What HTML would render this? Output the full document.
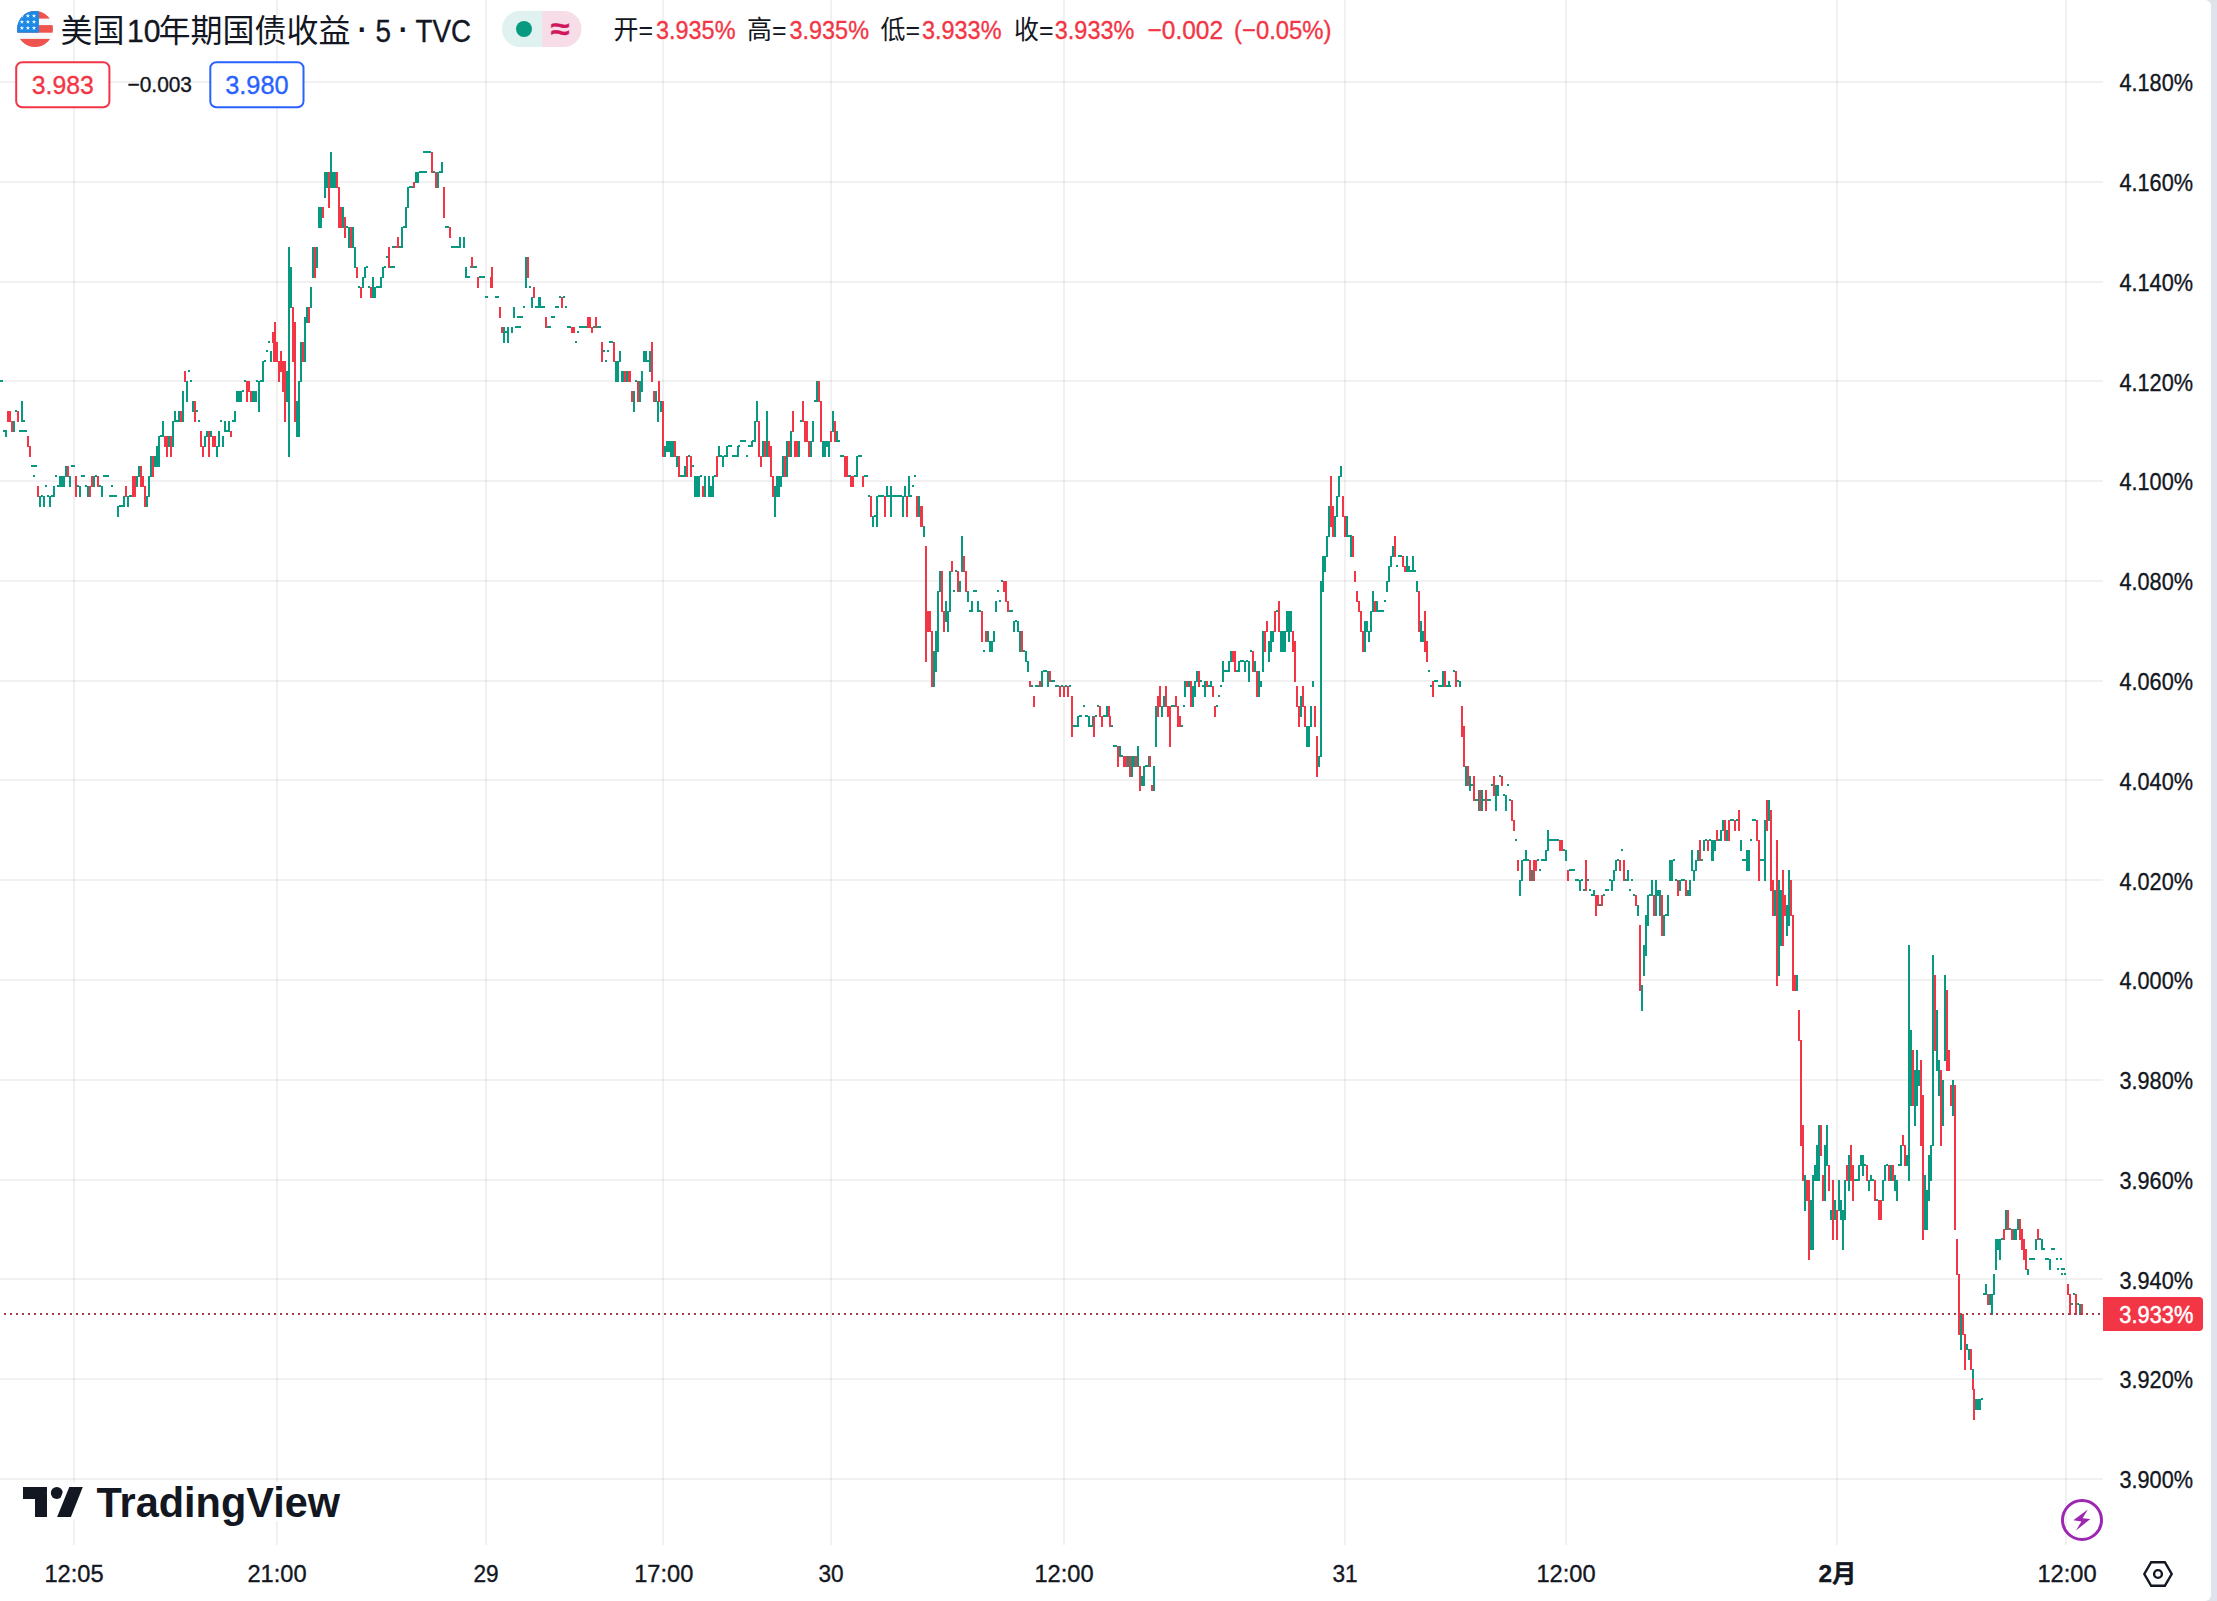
<!DOCTYPE html>
<html lang="zh-CN"><head><meta charset="utf-8"><title>美国10年期国债收益 · 5 · TVC</title>
<style>html,body{margin:0;padding:0;background:#fff}body{width:2217px;height:1601px;position:relative;overflow:hidden}</style>
</head><body>
<svg width="2217" height="1601" viewBox="0 0 2217 1601" style="position:absolute;left:0;top:0;display:block">
<rect x="0" y="0" width="2217" height="1601" fill="#e0e3eb"/>
<path d="M0 0H2205a6 6 0 0 1 6 6V1595a6 6 0 0 1 -6 6H0z" fill="#fff"/>
<path d="M0 81h2103v2h-2103zM0 181h2103v2h-2103zM0 281h2103v2h-2103zM0 380h2103v2h-2103zM0 480h2103v2h-2103zM0 580h2103v2h-2103zM0 680h2103v2h-2103zM0 779h2103v2h-2103zM0 879h2103v2h-2103zM0 979h2103v2h-2103zM0 1079h2103v2h-2103zM0 1179h2103v2h-2103zM0 1278h2103v2h-2103zM0 1378h2103v2h-2103zM0 1478h2103v2h-2103z" fill="rgba(19,23,34,0.06)"/>
<path d="M73 0h2v1545h-2zM276 0h2v1545h-2zM485 0h2v1545h-2zM662 0h2v1545h-2zM830 0h2v1545h-2zM1063 0h2v1545h-2zM1344 0h2v1545h-2zM1565 0h2v1545h-2zM1836 0h2v1545h-2zM2065 0h2v1545h-2z" fill="rgba(19,23,34,0.06)"/>
<path d="M0 380h3v2h-3zM3 430h4v2h-4zM5 431h2v6h-2zM13 421h2v11h-2zM15 410h2v2h-2zM21 401h2v21h-2zM23 420h2v2h-2zM19 430h8v2h-8zM31 465h6v2h-6zM33 475h2v2h-2zM39 496h2v11h-2zM41 495h2v2h-2zM43 496h2v11h-2zM45 485h2v2h-2zM47 495h2v2h-2zM49 496h2v11h-2zM51 495h2v2h-2zM53 486h2v11h-2zM55 475h2v2h-2zM57 485h2v2h-2zM59 476h6v11h-6zM65 466h2v11h-2zM69 476h2v11h-2zM71 465h4v2h-4zM77 485h2v2h-2zM79 486h2v11h-2zM81 475h4v2h-4zM85 485h2v2h-2zM87 486h2v11h-2zM93 476h2v11h-2zM95 475h2v2h-2zM99 485h2v2h-2zM101 486h2v11h-2zM103 475h6v2h-6zM111 485h2v2h-2zM109 495h8v2h-8zM117 506h2v11h-2zM119 505h5v2h-5zM123 496h2v11h-2zM127 496h2v11h-2zM129 495h3v2h-3zM136 476h2v11h-2zM138 466h2v11h-2zM146 496h2v11h-2zM148 476h2v21h-2zM150 456h2v21h-2zM154 456h2v11h-2zM156 446h2v21h-2zM158 436h2v31h-2zM160 435h2v2h-2zM162 421h2v16h-2zM168 436h2v11h-2zM172 421h2v26h-2zM174 411h2v11h-2zM176 420h2v2h-2zM178 411h2v11h-2zM182 391h2v31h-2zM186 381h2v21h-2zM188 370h2v2h-2zM190 380h2v2h-2zM192 401h2v11h-2zM196 410h2v2h-2zM198 420h2v2h-2zM204 436h2v11h-2zM206 431h2v6h-2zM210 431h2v6h-2zM216 446h2v11h-2zM218 431h2v16h-2zM220 420h2v2h-2zM222 436h2v11h-2zM224 421h2v11h-2zM226 430h2v2h-2zM228 421h2v11h-2zM232 420h2v2h-2zM234 411h2v11h-2zM236 391h6v11h-6zM242 390h2v2h-2zM244 380h2v2h-2zM252 391h4v11h-4zM256 380h2v2h-2zM258 381h2v31h-2zM260 380h2v2h-2zM262 361h2v21h-2zM264 360h2v2h-2zM266 350h2v2h-2zM270 351h2v11h-2zM255 391h2v11h-2zM258 381h2v31h-2zM260 380h2v2h-2zM262 361h2v21h-2zM264 360h2v2h-2zM266 350h2v2h-2zM268 341h2v2h-2zM270 351h2v11h-2zM286 371h2v31h-2zM288 247h2v210h-2zM290 267h2v41h-2zM296 401h2v36h-2zM298 381h2v56h-2zM300 342h2v40h-2zM304 317h2v45h-2zM306 307h2v16h-2zM310 287h2v21h-2zM312 247h2v31h-2zM316 247h2v21h-2zM318 207h4v21h-4zM324 172h2v26h-2zM326 172h2v16h-2zM330 152h2v36h-2zM332 172h4v16h-4zM342 207h2v21h-2zM346 226h2v2h-2zM348 227h2v21h-2zM352 227h2v21h-2zM354 247h2v21h-2zM358 286h2v2h-2zM362 277h2v11h-2zM364 267h2v11h-2zM366 266h2v2h-2zM368 286h2v2h-2zM372 277h2v21h-2zM374 287h2v11h-2zM376 286h4v2h-4zM380 277h2v11h-2zM382 267h2v11h-2zM384 266h2v2h-2zM386 256h2v2h-2zM390 266h5v2h-5zM392 246h3v2h-3zM399 246h2v2h-2zM401 227h2v21h-2zM403 226h2v2h-2zM405 207h2v21h-2zM407 187h2v21h-2zM409 186h4v2h-4zM415 172h4v11h-4zM419 171h8v2h-8zM423 151h8v2h-8zM433 171h2v2h-2zM437 172h2v16h-2zM439 171h2v2h-2zM441 162h2v11h-2zM445 226h4v2h-4zM451 246h8v2h-8zM459 237h2v11h-2zM463 237h2v11h-2zM465 267h2v11h-2zM467 276h3v2h-3zM470 266h2v2h-2zM473 266h4v2h-4zM479 276h6v2h-6zM485 296h3v2h-3zM495 296h4v2h-4zM503 327h2v16h-2zM505 331h2v2h-2zM507 327h2v16h-2zM511 327h2v6h-2zM515 326h6v2h-6zM513 307h2v11h-2zM517 316h6v2h-6zM523 306h2v2h-2zM531 297h2v11h-2zM535 306h3v2h-3zM538 297h3v11h-3zM541 306h4v2h-4zM547 326h4v2h-4zM551 316h4v2h-4zM555 306h4v2h-4zM559 296h2v2h-2zM563 296h2v2h-2zM565 306h2v2h-2zM567 326h4v2h-4zM575 341h2v2h-2zM577 331h2v2h-2zM579 326h9v2h-9zM593 326h2v2h-2zM597 326h4v2h-4zM603 350h2v2h-2zM605 360h2v2h-2zM607 350h2v2h-2zM609 341h4v2h-4zM615 361h4v21h-4zM619 351h2v11h-2zM621 371h3v11h-3zM626 371h2v11h-2zM633 391h2v21h-2zM635 380h2v2h-2zM639 381h2v21h-2zM641 371h2v21h-2zM643 351h4v11h-4zM647 360h2v2h-2zM649 351h2v21h-2zM655 391h2v11h-2zM657 401h2v21h-2zM660 401h2v11h-2zM664 446h2v11h-2zM666 441h4v11h-4zM670 441h4v16h-4zM676 456h2v11h-2zM680 475h4v2h-4zM684 466h2v11h-2zM688 455h2v2h-2zM692 465h2v2h-2zM694 476h6v21h-6zM700 475h2v2h-2zM704 476h2v21h-2zM708 476h2v21h-2zM710 486h2v11h-2zM712 476h2v21h-2zM714 475h2v2h-2zM718 446h2v11h-2zM720 455h2v2h-2zM722 456h2v11h-2zM724 455h2v2h-2zM726 446h2v11h-2zM728 445h4v2h-4zM732 455h5v2h-5zM737 446h2v11h-2zM738 445h2v2h-2zM740 440h6v2h-6zM746 455h2v2h-2zM748 445h3v2h-3zM751 441h2v6h-2zM752 440h2v2h-2zM754 421h2v21h-2zM756 401h2v21h-2zM762 441h2v16h-2zM766 411h2v46h-2zM774 486h2v31h-2zM776 476h4v21h-4zM780 476h2v11h-2zM782 456h2v21h-2zM786 441h2v36h-2zM790 431h2v26h-2zM798 441h2v16h-2zM800 420h2v2h-2zM810 441h2v16h-2zM812 421h2v21h-2zM814 400h2v2h-2zM816 381h2v21h-2zM822 441h4v16h-4zM826 441h2v6h-2zM828 441h2v16h-2zM832 411h2v21h-2zM836 431h2v11h-2zM838 440h2v2h-2zM840 455h4v2h-4zM848 475h3v2h-3zM854 475h2v2h-2zM856 456h2v21h-2zM858 455h4v2h-4zM864 475h4v2h-4zM868 495h2v2h-2zM872 516h2v11h-2zM874 515h2v2h-2zM876 496h2v31h-2zM878 495h6v2h-6zM886 486h2v11h-2zM888 495h2v2h-2zM890 486h2v31h-2zM892 495h10v2h-10zM902 496h2v21h-2zM904 486h2v11h-2zM908 476h2v21h-2zM910 495h2v2h-2zM912 485h2v2h-2zM914 475h2v2h-2zM918 496h2v21h-2zM923 526h2v11h-2zM933 651h2v36h-2zM935 631h2v41h-2zM937 591h2v61h-2zM939 571h2v21h-2zM945 601h2v21h-2zM947 611h2v21h-2zM949 571h2v41h-2zM953 590h2v2h-2zM955 570h2v2h-2zM959 581h2v11h-2zM961 536h2v36h-2zM967 591h2v11h-2zM969 610h2v2h-2zM971 601h2v11h-2zM973 590h4v2h-4zM977 601h2v11h-2zM979 610h2v2h-2zM983 650h2v2h-2zM987 631h2v11h-2zM989 641h4v11h-4zM993 631h2v11h-2zM995 601h2v11h-2zM997 590h2v2h-2zM999 600h2v2h-2zM1001 580h2v2h-2zM1009 610h4v2h-4zM1013 621h2v11h-2zM1015 620h2v2h-2zM1017 621h2v11h-2zM1019 631h2v21h-2zM1023 650h2v2h-2zM1025 651h2v11h-2zM1027 661h2v11h-2zM1031 685h2v2h-2zM1035 685h4v2h-4zM1041 671h2v16h-2zM1043 670h4v2h-4zM1047 671h2v16h-2zM1051 680h4v2h-4zM1055 685h4v2h-4zM1061 685h2v2h-2zM1065 685h2v2h-2zM1069 685h2v2h-2zM1073 725h4v2h-4zM1077 716h2v11h-2zM1079 715h3v2h-3zM1083 705h2v2h-2zM1085 715h3v2h-3zM1088 716h2v11h-2zM1089 725h3v2h-3zM1092 716h2v11h-2zM1095 715h2v2h-2zM1097 705h2v2h-2zM1103 715h3v2h-3zM1106 706h2v11h-2zM1111 725h2v2h-2zM1113 745h4v2h-4zM1119 746h2v11h-2zM1121 755h2v2h-2zM1127 756h2v11h-2zM1131 756h2v21h-2zM1133 756h2v11h-2zM1137 746h2v21h-2zM1141 776h2v10h-2zM1143 766h2v20h-2zM1145 765h3v2h-3zM1148 756h2v11h-2zM1153 766h2v25h-2zM1155 706h2v41h-2zM1161 706h2v11h-2zM1163 696h2v11h-2zM1171 705h4v2h-4zM1181 725h2v2h-2zM1183 705h2v2h-2zM1184 681h2v16h-2zM1188 681h2v6h-2zM1192 686h2v21h-2zM1194 681h2v16h-2zM1196 671h2v11h-2zM1200 680h2v2h-2zM1202 685h2v2h-2zM1204 681h2v16h-2zM1208 685h2v2h-2zM1210 681h2v6h-2zM1216 705h2v2h-2zM1218 695h2v2h-2zM1220 685h2v2h-2zM1222 661h2v21h-2zM1224 670h4v2h-4zM1228 661h2v11h-2zM1230 651h2v11h-2zM1236 670h2v2h-2zM1238 661h2v11h-2zM1240 660h4v2h-4zM1244 661h2v11h-2zM1246 660h2v2h-2zM1248 661h2v21h-2zM1250 650h2v2h-2zM1254 661h2v11h-2zM1258 671h2v26h-2zM1260 681h2v6h-2zM1262 631h2v41h-2zM1268 641h2v21h-2zM1270 631h2v21h-2zM1272 631h2v11h-2zM1300 696h2v21h-2zM1306 726h4v21h-4zM1310 706h2v21h-2zM1312 681h2v6h-2zM1318 756h2v11h-2zM1276 610h2v2h-2zM1280 631h6v21h-6zM1286 611h6v21h-6zM1288 631h2v11h-2zM1320 581h2v176h-2zM1322 556h2v36h-2zM1324 556h2v16h-2zM1326 536h2v21h-2zM1328 506h2v31h-2zM1334 516h2v21h-2zM1336 496h2v21h-2zM1338 476h2v21h-2zM1340 466h2v11h-2zM1346 516h2v21h-2zM1348 535h4v2h-4zM1350 536h2v21h-2zM1364 621h2v31h-2zM1366 621h2v11h-2zM1368 631h2v11h-2zM1370 611h2v21h-2zM1372 591h2v21h-2zM1376 601h2v11h-2zM1378 610h6v2h-6zM1384 600h2v2h-2zM1386 581h2v11h-2zM1388 566h2v16h-2zM1390 556h2v11h-2zM1392 546h2v11h-2zM1396 565h2v2h-2zM1398 555h4v2h-4zM1406 556h2v16h-2zM1408 566h2v6h-2zM1410 570h2v2h-2zM1412 556h2v16h-2zM1414 570h2v2h-2zM1416 581h2v11h-2zM1420 621h2v21h-2zM1422 631h2v11h-2zM1428 670h2v2h-2zM1430 685h2v2h-2zM1434 680h4v2h-4zM1438 685h4v2h-4zM1442 671h2v16h-2zM1446 685h5v2h-5zM1448 681h2v6h-2zM1453 670h2v2h-2zM1457 680h2v2h-2zM1459 681h2v6h-2zM1465 766h2v20h-2zM1469 776h2v15h-2zM1471 784h2v2h-2zM1475 799h3v2h-3zM1478 790h2v21h-2zM1481 790h2v21h-2zM1482 799h3v2h-3zM1487 799h4v2h-4zM1491 784h2v2h-2zM1495 785h2v26h-2zM1497 785h2v11h-2zM1499 775h2v2h-2zM1503 794h2v2h-2zM1505 795h2v16h-2zM1507 784h2v2h-2zM1509 799h2v2h-2zM1515 839h2v2h-2zM1519 880h2v16h-2zM1521 860h2v21h-2zM1523 859h2v2h-2zM1525 850h2v11h-2zM1527 859h2v2h-2zM1531 870h2v11h-2zM1537 859h2v2h-2zM1539 869h2v2h-2zM1541 859h4v2h-4zM1545 850h2v11h-2zM1547 830h2v21h-2zM1549 839h10v2h-10zM1563 849h2v2h-2zM1565 850h2v11h-2zM1569 869h6v2h-6zM1575 879h4v2h-4zM1579 880h2v11h-2zM1581 879h2v2h-2zM1583 889h2v2h-2zM1587 879h2v2h-2zM1589 889h2v2h-2zM1591 894h2v2h-2zM1593 890h2v6h-2zM1599 904h2v2h-2zM1603 894h2v2h-2zM1605 889h4v2h-4zM1609 879h2v2h-2zM1611 880h2v11h-2zM1613 870h2v11h-2zM1615 860h2v11h-2zM1617 859h2v2h-2zM1621 849h2v2h-2zM1625 879h2v2h-2zM1627 870h2v11h-2zM1629 889h2v2h-2zM1631 879h2v2h-2zM1633 894h2v2h-2zM1637 905h2v11h-2zM1643 945h2v31h-2zM1645 915h2v41h-2zM1647 895h2v31h-2zM1649 894h2v2h-2zM1651 880h2v16h-2zM1655 880h2v36h-2zM1657 890h2v6h-2zM1659 890h2v26h-2zM1663 915h2v21h-2zM1665 914h2v2h-2zM1667 895h2v21h-2zM1669 860h4v21h-4zM1673 859h2v2h-2zM1675 879h2v2h-2zM1679 880h2v11h-2zM1681 879h4v2h-4zM1687 890h2v6h-2zM1689 880h2v16h-2zM1691 850h2v21h-2zM1693 870h2v11h-2zM1695 860h2v11h-2zM1697 850h2v11h-2zM1701 859h2v2h-2zM1703 840h2v11h-2zM1705 839h2v2h-2zM1709 839h2v2h-2zM1711 840h3v21h-3zM1714 840h2v11h-2zM1718 839h2v2h-2zM1720 830h2v11h-2zM1722 820h2v11h-2zM1726 830h2v11h-2zM1730 819h4v2h-4zM1736 819h2v2h-2zM1740 840h2v11h-2zM1742 859h4v2h-4zM1746 850h4v21h-4zM1750 839h2v2h-2zM1752 819h4v2h-4zM1760 859h4v2h-4zM1764 820h2v61h-2zM1641 985h2v26h-2zM1768 800h2v21h-2zM1774 890h2v26h-2zM1778 880h2v96h-2zM1780 890h2v56h-2zM1786 905h2v31h-2zM1788 870h2v56h-2zM1796 975h2v16h-2zM1804 1175h2v36h-2zM1812 1175h2v26h-2zM1814 1165h2v16h-2zM1816 1145h2v36h-2zM1818 1125h2v56h-2zM1824 1145h2v56h-2zM1826 1125h2v41h-2zM1830 1210h2v10h-2zM1834 1200h2v20h-2zM1838 1180h2v31h-2zM1840 1200h2v20h-2zM1844 1180h2v40h-2zM1848 1155h2v36h-2zM1854 1179h4v2h-4zM1858 1165h2v16h-2zM1860 1155h2v11h-2zM1862 1155h2v21h-2zM1864 1164h2v2h-2zM1868 1180h2v11h-2zM1870 1175h2v6h-2zM1872 1179h2v2h-2zM1876 1199h2v2h-2zM1882 1180h2v21h-2zM1884 1165h2v16h-2zM1886 1164h2v2h-2zM1890 1165h2v16h-2zM1894 1175h2v16h-2zM1896 1180h2v21h-2zM1898 1164h2v2h-2zM1900 1145h2v21h-2zM1906 1155h2v11h-2zM1914 1070h2v56h-2zM1916 1050h2v56h-2zM1918 1070h2v16h-2zM1928 1155h2v46h-2zM1930 1145h2v36h-2zM1938 1060h2v36h-2zM1942 1080h2v46h-2zM1952 1080h2v36h-2zM1908 945h2v236h-2zM1910 1030h2v76h-2zM1932 955h2v191h-2zM1936 1010h2v61h-2zM1944 975h2v86h-2zM1810 1200h2v50h-2zM1812 1200h2v50h-2zM1842 1210h2v40h-2zM1924 1175h2v55h-2zM1926 1190h2v40h-2zM1960 1314h2v36h-2zM1983 1293h3v2h-3zM1985 1284h2v11h-2zM1989 1294h2v11h-2zM1991 1294h2v21h-2zM1993 1274h2v21h-2zM1995 1239h2v31h-2zM1997 1239h2v11h-2zM1999 1239h2v21h-2zM2001 1238h2v2h-2zM2005 1210h2v20h-2zM2009 1228h2v2h-2zM2013 1229h2v11h-2zM2015 1229h2v11h-2zM2017 1219h2v11h-2zM2027 1269h2v6h-2zM2029 1258h6v2h-6zM2035 1239h2v11h-2zM2039 1238h2v2h-2zM2041 1239h2v11h-2zM2043 1248h2v2h-2zM2045 1258h4v2h-4zM2049 1259h2v11h-2zM2051 1248h4v2h-4zM1966 1344h2v6h-2zM1968 1349h2v11h-2zM1972 1369h2v11h-2zM1975 1399h6v11h-6zM1981 1398h2v2h-2zM2056 1258h2v2h-2zM2060 1258h2v2h-2zM2057 1268h2v2h-2zM2061 1268h4v2h-4zM2061 1273h2v2h-2zM2064 1273h2v2h-2zM2071 1303h2v2h-2zM2073 1293h2v2h-2zM2077 1303h2v2h-2zM2079 1304h2v11h-2zM525 257h2v31h-2zM529 286h2v2h-2z" fill="#089981" shape-rendering="crispEdges"/>
<path d="M7 411h4v11h-4zM11 421h2v11h-2zM17 411h2v11h-2zM27 436h2v11h-2zM29 446h2v11h-2zM37 486h2v11h-2zM67 466h2v11h-2zM75 476h2v21h-2zM89 486h2v11h-2zM91 476h2v11h-2zM97 476h2v11h-2zM125 486h2v11h-2zM132 476h4v21h-4zM140 466h2v21h-2zM142 476h2v11h-2zM144 486h2v21h-2zM152 456h2v21h-2zM164 436h2v11h-2zM166 436h2v21h-2zM170 436h2v21h-2zM180 411h2v11h-2zM184 371h2v11h-2zM194 401h2v21h-2zM200 431h2v16h-2zM202 446h2v11h-2zM208 431h2v26h-2zM212 436h4v11h-4zM230 431h2v6h-2zM246 381h2v21h-2zM248 381h2v11h-2zM250 391h2v11h-2zM273 342h4v20h-4zM272 332h2v11h-2zM274 322h2v40h-2zM276 342h2v20h-2zM278 361h2v21h-2zM280 351h2v21h-2zM282 361h2v31h-2zM284 361h2v61h-2zM292 307h2v55h-2zM294 322h2v100h-2zM302 342h2v20h-2zM308 307h2v16h-2zM314 247h2v31h-2zM322 207h2v11h-2zM328 172h2v36h-2zM336 172h2v16h-2zM338 187h2v21h-2zM338 207h4v21h-4zM344 217h2v21h-2zM350 227h2v21h-2zM356 267h2v11h-2zM360 287h2v11h-2zM370 287h2v11h-2zM388 247h2v21h-2zM395 246h2v2h-2zM397 237h2v11h-2zM413 182h2v6h-2zM431 152h2v21h-2zM435 172h2v16h-2zM443 187h2v31h-2zM449 227h2v11h-2zM471 257h2v11h-2zM477 277h2v11h-2zM490 277h2v11h-2zM491 267h2v21h-2zM499 307h2v11h-2zM501 327h2v6h-2zM533 287h2v11h-2zM545 317h2v11h-2zM561 297h2v11h-2zM571 327h4v6h-4zM587 317h4v11h-4zM591 327h2v6h-2zM595 317h2v11h-2zM601 342h2v20h-2zM613 342h2v20h-2zM624 371h2v11h-2zM628 371h3v11h-3zM631 391h2v11h-2zM637 381h2v21h-2zM651 342h2v40h-2zM653 391h2v11h-2zM658 381h2v21h-2zM662 401h2v56h-2zM674 441h2v16h-2zM678 456h2v21h-2zM686 456h2v21h-2zM690 456h2v21h-2zM702 486h2v11h-2zM716 456h2v21h-2zM758 421h2v36h-2zM760 456h2v11h-2zM764 441h2v16h-2zM768 441h2v16h-2zM770 446h2v31h-2zM772 476h2v21h-2zM784 456h2v21h-2zM788 441h2v16h-2zM792 411h2v21h-2zM794 441h4v16h-4zM802 401h2v21h-2zM804 421h4v21h-4zM808 441h2v16h-2zM818 381h2v21h-2zM820 401h2v41h-2zM830 431h2v11h-2zM834 421h2v21h-2zM844 456h4v21h-4zM850 476h4v11h-4zM862 476h2v11h-2zM870 496h2v21h-2zM884 496h2v21h-2zM906 496h2v21h-2zM916 496h2v21h-2zM920 506h3v21h-3zM925 546h2v116h-2zM927 611h4v21h-4zM931 631h2v56h-2zM941 571h2v41h-2zM943 611h2v21h-2zM951 561h2v11h-2zM957 571h2v21h-2zM963 556h2v16h-2zM965 571h2v21h-2zM981 611h2v31h-2zM985 631h2v11h-2zM1003 581h4v11h-4zM1005 591h2v11h-2zM1007 601h2v11h-2zM1021 631h2v21h-2zM1029 681h2v6h-2zM1033 696h2v11h-2zM1039 681h2v6h-2zM1049 671h2v11h-2zM1059 686h2v11h-2zM1063 686h2v11h-2zM1067 686h2v11h-2zM1071 696h2v41h-2zM1093 716h2v21h-2zM1099 706h2v11h-2zM1101 716h2v11h-2zM1108 706h2v11h-2zM1109 716h2v11h-2zM1117 746h2v21h-2zM1123 756h4v11h-4zM1129 756h2v21h-2zM1135 756h2v11h-2zM1139 766h2v25h-2zM1149 756h2v11h-2zM1151 785h2v6h-2zM1157 696h2v21h-2zM1159 686h2v21h-2zM1165 686h2v21h-2zM1167 706h2v11h-2zM1169 706h2v41h-2zM1175 696h2v11h-2zM1177 706h2v21h-2zM1179 716h2v11h-2zM1186 681h2v6h-2zM1190 681h2v26h-2zM1198 671h2v16h-2zM1206 681h2v6h-2zM1212 686h2v11h-2zM1214 706h2v11h-2zM1232 651h2v11h-2zM1234 651h2v21h-2zM1252 651h2v21h-2zM1256 671h2v26h-2zM1264 631h2v21h-2zM1266 621h2v11h-2zM1296 686h2v21h-2zM1298 706h2v21h-2zM1302 686h2v21h-2zM1304 706h2v21h-2zM1314 706h2v21h-2zM1316 736h2v41h-2zM1274 611h2v21h-2zM1278 601h2v31h-2zM1292 631h2v21h-2zM1294 641h2v41h-2zM1330 476h2v51h-2zM1332 506h2v31h-2zM1342 496h2v21h-2zM1344 516h2v21h-2zM1352 536h2v21h-2zM1354 571h2v11h-2zM1356 591h2v11h-2zM1358 601h2v11h-2zM1360 611h2v21h-2zM1362 631h2v21h-2zM1374 601h2v11h-2zM1394 536h2v21h-2zM1402 556h2v11h-2zM1404 566h2v6h-2zM1418 591h2v41h-2zM1424 611h2v31h-2zM1424 641h2v11h-2zM1426 641h2v21h-2zM1432 681h2v16h-2zM1444 671h2v16h-2zM1455 671h2v16h-2zM1461 706h2v31h-2zM1463 726h2v41h-2zM1467 766h2v20h-2zM1473 776h2v25h-2zM1479 790h2v21h-2zM1485 790h2v21h-2zM1493 776h2v20h-2zM1501 776h2v10h-2zM1511 800h2v21h-2zM1513 820h2v11h-2zM1517 860h2v11h-2zM1529 860h2v21h-2zM1533 860h2v21h-2zM1535 860h2v11h-2zM1559 840h4v11h-4zM1567 870h2v11h-2zM1585 860h2v31h-2zM1595 895h2v21h-2zM1597 895h2v11h-2zM1601 895h2v11h-2zM1619 860h2v11h-2zM1623 860h2v21h-2zM1635 895h2v11h-2zM1653 895h2v21h-2zM1661 895h2v41h-2zM1677 880h2v16h-2zM1685 880h2v16h-2zM1699 840h2v21h-2zM1707 840h2v11h-2zM1716 830h2v11h-2zM1724 820h2v21h-2zM1728 820h2v21h-2zM1734 820h2v11h-2zM1738 810h2v21h-2zM1756 820h2v21h-2zM1758 840h2v41h-2zM1639 925h2v66h-2zM1766 800h2v31h-2zM1770 810h2v81h-2zM1772 880h2v36h-2zM1776 840h2v146h-2zM1782 870h2v76h-2zM1784 895h2v21h-2zM1790 880h2v36h-2zM1792 915h2v76h-2zM1794 975h2v16h-2zM1798 1010h2v31h-2zM1800 1040h2v106h-2zM1802 1125h2v56h-2zM1806 1180h2v21h-2zM1820 1125h2v31h-2zM1822 1175h2v26h-2zM1828 1165h2v26h-2zM1846 1165h2v16h-2zM1850 1145h2v36h-2zM1852 1165h2v36h-2zM1866 1165h2v16h-2zM1874 1180h2v21h-2zM1878 1200h4v20h-4zM1888 1165h2v16h-2zM1892 1165h2v16h-2zM1902 1135h2v11h-2zM1904 1145h2v21h-2zM1912 1050h2v56h-2zM1920 1060h2v86h-2zM1940 1070h2v76h-2zM1948 1050h2v21h-2zM1950 1085h2v21h-2zM1934 975h2v76h-2zM1946 990h2v81h-2zM1808 1180h2v80h-2zM1832 1180h2v60h-2zM1836 1210h2v30h-2zM1922 1095h2v145h-2zM1954 1085h2v145h-2zM1956 1239h2v36h-2zM1958 1274h2v61h-2zM1962 1314h2v21h-2zM1987 1294h2v11h-2zM2003 1229h2v11h-2zM2007 1210h2v20h-2zM2011 1229h2v11h-2zM2019 1219h2v21h-2zM2021 1229h2v21h-2zM2023 1239h2v21h-2zM2025 1249h2v21h-2zM2037 1229h2v11h-2zM1964 1334h2v36h-2zM1970 1349h2v21h-2zM1972 1379h2v11h-2zM1973 1389h2v31h-2zM2067 1284h2v11h-2zM2069 1294h2v21h-2zM2075 1294h2v21h-2zM2081 1304h2v11h-2zM527 257h2v21h-2z" fill="#f23645" shape-rendering="crispEdges"/>
<path d="M4 1313h2v2h-2zM10 1313h2v2h-2zM16 1313h2v2h-2zM22 1313h2v2h-2zM28 1313h2v2h-2zM34 1313h2v2h-2zM40 1313h2v2h-2zM46 1313h2v2h-2zM52 1313h2v2h-2zM58 1313h2v2h-2zM64 1313h2v2h-2zM70 1313h2v2h-2zM76 1313h2v2h-2zM82 1313h2v2h-2zM88 1313h2v2h-2zM94 1313h2v2h-2zM100 1313h2v2h-2zM106 1313h2v2h-2zM112 1313h2v2h-2zM118 1313h2v2h-2zM124 1313h2v2h-2zM130 1313h2v2h-2zM136 1313h2v2h-2zM142 1313h2v2h-2zM148 1313h2v2h-2zM154 1313h2v2h-2zM160 1313h2v2h-2zM166 1313h2v2h-2zM172 1313h2v2h-2zM178 1313h2v2h-2zM184 1313h2v2h-2zM190 1313h2v2h-2zM196 1313h2v2h-2zM202 1313h2v2h-2zM208 1313h2v2h-2zM214 1313h2v2h-2zM220 1313h2v2h-2zM226 1313h2v2h-2zM232 1313h2v2h-2zM238 1313h2v2h-2zM244 1313h2v2h-2zM250 1313h2v2h-2zM256 1313h2v2h-2zM262 1313h2v2h-2zM268 1313h2v2h-2zM274 1313h2v2h-2zM280 1313h2v2h-2zM286 1313h2v2h-2zM292 1313h2v2h-2zM298 1313h2v2h-2zM304 1313h2v2h-2zM310 1313h2v2h-2zM316 1313h2v2h-2zM322 1313h2v2h-2zM328 1313h2v2h-2zM334 1313h2v2h-2zM340 1313h2v2h-2zM346 1313h2v2h-2zM352 1313h2v2h-2zM358 1313h2v2h-2zM364 1313h2v2h-2zM370 1313h2v2h-2zM376 1313h2v2h-2zM382 1313h2v2h-2zM388 1313h2v2h-2zM394 1313h2v2h-2zM400 1313h2v2h-2zM406 1313h2v2h-2zM412 1313h2v2h-2zM418 1313h2v2h-2zM424 1313h2v2h-2zM430 1313h2v2h-2zM436 1313h2v2h-2zM442 1313h2v2h-2zM448 1313h2v2h-2zM454 1313h2v2h-2zM460 1313h2v2h-2zM466 1313h2v2h-2zM472 1313h2v2h-2zM478 1313h2v2h-2zM484 1313h2v2h-2zM490 1313h2v2h-2zM496 1313h2v2h-2zM502 1313h2v2h-2zM508 1313h2v2h-2zM514 1313h2v2h-2zM520 1313h2v2h-2zM526 1313h2v2h-2zM532 1313h2v2h-2zM538 1313h2v2h-2zM544 1313h2v2h-2zM550 1313h2v2h-2zM556 1313h2v2h-2zM562 1313h2v2h-2zM568 1313h2v2h-2zM574 1313h2v2h-2zM580 1313h2v2h-2zM586 1313h2v2h-2zM592 1313h2v2h-2zM598 1313h2v2h-2zM604 1313h2v2h-2zM610 1313h2v2h-2zM616 1313h2v2h-2zM622 1313h2v2h-2zM628 1313h2v2h-2zM634 1313h2v2h-2zM640 1313h2v2h-2zM646 1313h2v2h-2zM652 1313h2v2h-2zM658 1313h2v2h-2zM664 1313h2v2h-2zM670 1313h2v2h-2zM676 1313h2v2h-2zM682 1313h2v2h-2zM688 1313h2v2h-2zM694 1313h2v2h-2zM700 1313h2v2h-2zM706 1313h2v2h-2zM712 1313h2v2h-2zM718 1313h2v2h-2zM724 1313h2v2h-2zM730 1313h2v2h-2zM736 1313h2v2h-2zM742 1313h2v2h-2zM748 1313h2v2h-2zM754 1313h2v2h-2zM760 1313h2v2h-2zM766 1313h2v2h-2zM772 1313h2v2h-2zM778 1313h2v2h-2zM784 1313h2v2h-2zM790 1313h2v2h-2zM796 1313h2v2h-2zM802 1313h2v2h-2zM808 1313h2v2h-2zM814 1313h2v2h-2zM820 1313h2v2h-2zM826 1313h2v2h-2zM832 1313h2v2h-2zM838 1313h2v2h-2zM844 1313h2v2h-2zM850 1313h2v2h-2zM856 1313h2v2h-2zM862 1313h2v2h-2zM868 1313h2v2h-2zM874 1313h2v2h-2zM880 1313h2v2h-2zM886 1313h2v2h-2zM892 1313h2v2h-2zM898 1313h2v2h-2zM904 1313h2v2h-2zM910 1313h2v2h-2zM916 1313h2v2h-2zM922 1313h2v2h-2zM928 1313h2v2h-2zM934 1313h2v2h-2zM940 1313h2v2h-2zM946 1313h2v2h-2zM952 1313h2v2h-2zM958 1313h2v2h-2zM964 1313h2v2h-2zM970 1313h2v2h-2zM976 1313h2v2h-2zM982 1313h2v2h-2zM988 1313h2v2h-2zM994 1313h2v2h-2zM1000 1313h2v2h-2zM1006 1313h2v2h-2zM1012 1313h2v2h-2zM1018 1313h2v2h-2zM1024 1313h2v2h-2zM1030 1313h2v2h-2zM1036 1313h2v2h-2zM1042 1313h2v2h-2zM1048 1313h2v2h-2zM1054 1313h2v2h-2zM1060 1313h2v2h-2zM1066 1313h2v2h-2zM1072 1313h2v2h-2zM1078 1313h2v2h-2zM1084 1313h2v2h-2zM1090 1313h2v2h-2zM1096 1313h2v2h-2zM1102 1313h2v2h-2zM1108 1313h2v2h-2zM1114 1313h2v2h-2zM1120 1313h2v2h-2zM1126 1313h2v2h-2zM1132 1313h2v2h-2zM1138 1313h2v2h-2zM1144 1313h2v2h-2zM1150 1313h2v2h-2zM1156 1313h2v2h-2zM1162 1313h2v2h-2zM1168 1313h2v2h-2zM1174 1313h2v2h-2zM1180 1313h2v2h-2zM1186 1313h2v2h-2zM1192 1313h2v2h-2zM1198 1313h2v2h-2zM1204 1313h2v2h-2zM1210 1313h2v2h-2zM1216 1313h2v2h-2zM1222 1313h2v2h-2zM1228 1313h2v2h-2zM1234 1313h2v2h-2zM1240 1313h2v2h-2zM1246 1313h2v2h-2zM1252 1313h2v2h-2zM1258 1313h2v2h-2zM1264 1313h2v2h-2zM1270 1313h2v2h-2zM1276 1313h2v2h-2zM1282 1313h2v2h-2zM1288 1313h2v2h-2zM1294 1313h2v2h-2zM1300 1313h2v2h-2zM1306 1313h2v2h-2zM1312 1313h2v2h-2zM1318 1313h2v2h-2zM1324 1313h2v2h-2zM1330 1313h2v2h-2zM1336 1313h2v2h-2zM1342 1313h2v2h-2zM1348 1313h2v2h-2zM1354 1313h2v2h-2zM1360 1313h2v2h-2zM1366 1313h2v2h-2zM1372 1313h2v2h-2zM1378 1313h2v2h-2zM1384 1313h2v2h-2zM1390 1313h2v2h-2zM1396 1313h2v2h-2zM1402 1313h2v2h-2zM1408 1313h2v2h-2zM1414 1313h2v2h-2zM1420 1313h2v2h-2zM1426 1313h2v2h-2zM1432 1313h2v2h-2zM1438 1313h2v2h-2zM1444 1313h2v2h-2zM1450 1313h2v2h-2zM1456 1313h2v2h-2zM1462 1313h2v2h-2zM1468 1313h2v2h-2zM1474 1313h2v2h-2zM1480 1313h2v2h-2zM1486 1313h2v2h-2zM1492 1313h2v2h-2zM1498 1313h2v2h-2zM1504 1313h2v2h-2zM1510 1313h2v2h-2zM1516 1313h2v2h-2zM1522 1313h2v2h-2zM1528 1313h2v2h-2zM1534 1313h2v2h-2zM1540 1313h2v2h-2zM1546 1313h2v2h-2zM1552 1313h2v2h-2zM1558 1313h2v2h-2zM1564 1313h2v2h-2zM1570 1313h2v2h-2zM1576 1313h2v2h-2zM1582 1313h2v2h-2zM1588 1313h2v2h-2zM1594 1313h2v2h-2zM1600 1313h2v2h-2zM1606 1313h2v2h-2zM1612 1313h2v2h-2zM1618 1313h2v2h-2zM1624 1313h2v2h-2zM1630 1313h2v2h-2zM1636 1313h2v2h-2zM1642 1313h2v2h-2zM1648 1313h2v2h-2zM1654 1313h2v2h-2zM1660 1313h2v2h-2zM1666 1313h2v2h-2zM1672 1313h2v2h-2zM1678 1313h2v2h-2zM1684 1313h2v2h-2zM1690 1313h2v2h-2zM1696 1313h2v2h-2zM1702 1313h2v2h-2zM1708 1313h2v2h-2zM1714 1313h2v2h-2zM1720 1313h2v2h-2zM1726 1313h2v2h-2zM1732 1313h2v2h-2zM1738 1313h2v2h-2zM1744 1313h2v2h-2zM1750 1313h2v2h-2zM1756 1313h2v2h-2zM1762 1313h2v2h-2zM1768 1313h2v2h-2zM1774 1313h2v2h-2zM1780 1313h2v2h-2zM1786 1313h2v2h-2zM1792 1313h2v2h-2zM1798 1313h2v2h-2zM1804 1313h2v2h-2zM1810 1313h2v2h-2zM1816 1313h2v2h-2zM1822 1313h2v2h-2zM1828 1313h2v2h-2zM1834 1313h2v2h-2zM1840 1313h2v2h-2zM1846 1313h2v2h-2zM1852 1313h2v2h-2zM1858 1313h2v2h-2zM1864 1313h2v2h-2zM1870 1313h2v2h-2zM1876 1313h2v2h-2zM1882 1313h2v2h-2zM1888 1313h2v2h-2zM1894 1313h2v2h-2zM1900 1313h2v2h-2zM1906 1313h2v2h-2zM1912 1313h2v2h-2zM1918 1313h2v2h-2zM1924 1313h2v2h-2zM1930 1313h2v2h-2zM1936 1313h2v2h-2zM1942 1313h2v2h-2zM1948 1313h2v2h-2zM1954 1313h2v2h-2zM1960 1313h2v2h-2zM1966 1313h2v2h-2zM1972 1313h2v2h-2zM1978 1313h2v2h-2zM1984 1313h2v2h-2zM1990 1313h2v2h-2zM1996 1313h2v2h-2zM2002 1313h2v2h-2zM2008 1313h2v2h-2zM2014 1313h2v2h-2zM2020 1313h2v2h-2zM2026 1313h2v2h-2zM2032 1313h2v2h-2zM2038 1313h2v2h-2zM2044 1313h2v2h-2zM2050 1313h2v2h-2zM2056 1313h2v2h-2zM2062 1313h2v2h-2zM2068 1313h2v2h-2zM2074 1313h2v2h-2zM2080 1313h2v2h-2zM2086 1313h2v2h-2zM2092 1313h2v2h-2zM2098 1313h2v2h-2z" fill="#a83a46"/>
<g font-family='"Liberation Sans","Noto Sans CJK SC",sans-serif'>
<text x="2119.5" y="91.3" font-size="24" fill="#131722" textLength="73.5" lengthAdjust="spacingAndGlyphs" stroke="#131722" stroke-width="0.35" >4.180%</text>
<text x="2119.5" y="191.1" font-size="24" fill="#131722" textLength="73.5" lengthAdjust="spacingAndGlyphs" stroke="#131722" stroke-width="0.35" >4.160%</text>
<text x="2119.5" y="290.8" font-size="24" fill="#131722" textLength="73.5" lengthAdjust="spacingAndGlyphs" stroke="#131722" stroke-width="0.35" >4.140%</text>
<text x="2119.5" y="390.6" font-size="24" fill="#131722" textLength="73.5" lengthAdjust="spacingAndGlyphs" stroke="#131722" stroke-width="0.35" >4.120%</text>
<text x="2119.5" y="490.4" font-size="24" fill="#131722" textLength="73.5" lengthAdjust="spacingAndGlyphs" stroke="#131722" stroke-width="0.35" >4.100%</text>
<text x="2119.5" y="590.1" font-size="24" fill="#131722" textLength="73.5" lengthAdjust="spacingAndGlyphs" stroke="#131722" stroke-width="0.35" >4.080%</text>
<text x="2119.5" y="689.9" font-size="24" fill="#131722" textLength="73.5" lengthAdjust="spacingAndGlyphs" stroke="#131722" stroke-width="0.35" >4.060%</text>
<text x="2119.5" y="789.7" font-size="24" fill="#131722" textLength="73.5" lengthAdjust="spacingAndGlyphs" stroke="#131722" stroke-width="0.35" >4.040%</text>
<text x="2119.5" y="889.5" font-size="24" fill="#131722" textLength="73.5" lengthAdjust="spacingAndGlyphs" stroke="#131722" stroke-width="0.35" >4.020%</text>
<text x="2119.5" y="989.2" font-size="24" fill="#131722" textLength="73.5" lengthAdjust="spacingAndGlyphs" stroke="#131722" stroke-width="0.35" >4.000%</text>
<text x="2119.5" y="1089.0" font-size="24" fill="#131722" textLength="73.5" lengthAdjust="spacingAndGlyphs" stroke="#131722" stroke-width="0.35" >3.980%</text>
<text x="2119.5" y="1188.8" font-size="24" fill="#131722" textLength="73.5" lengthAdjust="spacingAndGlyphs" stroke="#131722" stroke-width="0.35" >3.960%</text>
<text x="2119.5" y="1288.5" font-size="24" fill="#131722" textLength="73.5" lengthAdjust="spacingAndGlyphs" stroke="#131722" stroke-width="0.35" >3.940%</text>
<text x="2119.5" y="1388.3" font-size="24" fill="#131722" textLength="73.5" lengthAdjust="spacingAndGlyphs" stroke="#131722" stroke-width="0.35" >3.920%</text>
<text x="2119.5" y="1488.1" font-size="24" fill="#131722" textLength="73.5" lengthAdjust="spacingAndGlyphs" stroke="#131722" stroke-width="0.35" >3.900%</text>
<path d="M2103 1297h96a4 4 0 0 1 4 4v26a4 4 0 0 1 -4 4h-96z" fill="#f23645"/>
<text x="2119.3" y="1323.2" font-size="24" fill="#fff" textLength="74" lengthAdjust="spacingAndGlyphs" stroke="#fff" stroke-width="0.5">3.933%</text>
<text x="44.4" y="1582.4" font-size="24" fill="#131722" textLength="59.2" lengthAdjust="spacingAndGlyphs" stroke="#131722" stroke-width="0.35" >12:05</text>
<text x="247.4" y="1582.4" font-size="24" fill="#131722" textLength="59.2" lengthAdjust="spacingAndGlyphs" stroke="#131722" stroke-width="0.35" >21:00</text>
<text x="473.4" y="1582.4" font-size="24" fill="#131722" textLength="25.2" lengthAdjust="spacingAndGlyphs" stroke="#131722" stroke-width="0.35" >29</text>
<text x="634.2" y="1582.4" font-size="24" fill="#131722" textLength="59.2" lengthAdjust="spacingAndGlyphs" stroke="#131722" stroke-width="0.35" >17:00</text>
<text x="818.4" y="1582.4" font-size="24" fill="#131722" textLength="25.2" lengthAdjust="spacingAndGlyphs" stroke="#131722" stroke-width="0.35" >30</text>
<text x="1034.4" y="1582.4" font-size="24" fill="#131722" textLength="59.2" lengthAdjust="spacingAndGlyphs" stroke="#131722" stroke-width="0.35" >12:00</text>
<text x="1332.4" y="1582.4" font-size="24" fill="#131722" textLength="25.2" lengthAdjust="spacingAndGlyphs" stroke="#131722" stroke-width="0.35" >31</text>
<text x="1536.4" y="1582.4" font-size="24" fill="#131722" textLength="59.2" lengthAdjust="spacingAndGlyphs" stroke="#131722" stroke-width="0.35" >12:00</text>
<text x="1818.5" y="1582.4" font-size="24" fill="#131722" textLength="38" lengthAdjust="spacingAndGlyphs" font-weight="bold" stroke="#131722" stroke-width="0.35" >2月</text>
<text x="2037.4" y="1582.4" font-size="24" fill="#131722" textLength="59.2" lengthAdjust="spacingAndGlyphs" stroke="#131722" stroke-width="0.35" >12:00</text>
<text x="60.5" y="42" font-size="32" fill="#131722" >美国</text>
<text x="127" y="42" font-size="32" fill="#131722" textLength="33.5" lengthAdjust="spacingAndGlyphs" stroke="#131722" stroke-width="0.35" >10</text>
<text x="158.5" y="42" font-size="32" fill="#131722" >年期国债收益</text>
<text x="354.65" y="41.15" font-size="42" fill="#131722" >·</text>
<text x="375.5" y="42" font-size="32" fill="#131722" textLength="15.5" lengthAdjust="spacingAndGlyphs" stroke="#131722" stroke-width="0.35" >5</text>
<text x="395.65" y="41.15" font-size="42" fill="#131722" >·</text>
<text x="415.5" y="42" font-size="32" fill="#131722" textLength="55.5" lengthAdjust="spacingAndGlyphs" stroke="#131722" stroke-width="0.35" >TVC</text>
<text x="613.5" y="38.6" font-size="26" fill="#131722" textLength="39.5" lengthAdjust="spacingAndGlyphs" >开=</text>
<text x="656" y="38.6" font-size="26" fill="#f23645" textLength="79.5" lengthAdjust="spacingAndGlyphs" stroke="#f23645" stroke-width="0.35" >3.935%</text>
<text x="747" y="38.6" font-size="26" fill="#131722" textLength="39.5" lengthAdjust="spacingAndGlyphs" >高=</text>
<text x="789.5" y="38.6" font-size="26" fill="#f23645" textLength="79.5" lengthAdjust="spacingAndGlyphs" stroke="#f23645" stroke-width="0.35" >3.935%</text>
<text x="880.5" y="38.6" font-size="26" fill="#131722" textLength="39.5" lengthAdjust="spacingAndGlyphs" >低=</text>
<text x="922" y="38.6" font-size="26" fill="#f23645" textLength="79.5" lengthAdjust="spacingAndGlyphs" stroke="#f23645" stroke-width="0.35" >3.933%</text>
<text x="1014" y="38.6" font-size="26" fill="#131722" textLength="39.5" lengthAdjust="spacingAndGlyphs" >收=</text>
<text x="1054.8" y="38.6" font-size="26" fill="#f23645" textLength="79.5" lengthAdjust="spacingAndGlyphs" stroke="#f23645" stroke-width="0.35" >3.933%</text>
<text x="1147.5" y="38.6" font-size="26" fill="#f23645" textLength="75.5" lengthAdjust="spacingAndGlyphs" stroke="#f23645" stroke-width="0.35" >−0.002</text>
<text x="1234" y="38.6" font-size="26" fill="#f23645" textLength="97.5" lengthAdjust="spacingAndGlyphs" stroke="#f23645" stroke-width="0.35" >(−0.05%)</text>
<rect x="16.2" y="62.3" width="93.2" height="45" rx="6" fill="#fff" stroke="#f23645" stroke-width="2"/>
<text x="31.8" y="93.8" font-size="26" fill="#f23645" textLength="62" lengthAdjust="spacingAndGlyphs" stroke="#f23645" stroke-width="0.35" >3.983</text>
<text x="127.5" y="92.4" font-size="22" fill="#131722" textLength="64.5" lengthAdjust="spacingAndGlyphs" stroke="#131722" stroke-width="0.35" >−0.003</text>
<rect x="210.3" y="62.3" width="93.2" height="45" rx="6" fill="#fff" stroke="#2962ff" stroke-width="2"/>
<text x="225.2" y="93.8" font-size="26" fill="#2962ff" textLength="63.5" lengthAdjust="spacingAndGlyphs" stroke="#2962ff" stroke-width="0.35" >3.980</text>
<path d="M520 11h22v36h-22a18 18 0 0 1 0-36z" fill="#dff2ef"/>
<path d="M542 11h21.5a18 18 0 0 1 0 36h-21.5z" fill="#f7dde7"/>
<circle cx="524" cy="29" r="8" fill="#089981"/>
<text x="550.5" y="39" font-size="30" fill="#cf185c" textLength="19" lengthAdjust="spacingAndGlyphs" font-weight="bold" stroke="#cf185c" stroke-width="0.35" >≈</text>
<text x="96.5" y="1516.8" font-size="41.6" fill="#131722" textLength="243.5" lengthAdjust="spacingAndGlyphs" font-weight="bold" stroke="#fff" stroke-width="8" paint-order="stroke" stroke-linejoin="round">TradingView</text>
</g>
<g stroke="#fff" stroke-width="8" paint-order="stroke" stroke-linejoin="round"><path d="M23 1487h24v30h-12v-18h-12z" fill="#131722"/><circle cx="56.8" cy="1493" r="6" fill="#131722"/><path d="M69.3 1487h13.5l-11.9 30h-13.8z" fill="#131722"/></g>
<defs><clipPath id="fc"><circle cx="35" cy="29" r="18"/></clipPath></defs>
<g clip-path="url(#fc)"><rect x="17" y="11" width="36" height="36" fill="#f7f8fb"/><rect x="17" y="10" width="36" height="8.6" fill="#ef5350"/><rect x="17" y="25.1" width="36" height="7.6" fill="#ef5350"/><rect x="17" y="38.9" width="36" height="9" fill="#ef5350"/><rect x="17" y="10" width="21.9" height="22.7" fill="#1e88e5"/>
<polygon points="21.90,13.60 22.46,15.13 24.09,15.19 22.80,16.19 23.25,17.76 21.90,16.85 20.55,17.76 21.00,16.19 19.71,15.19 21.34,15.13" fill="#eefcff"/>
<polygon points="21.90,19.60 22.46,21.13 24.09,21.19 22.80,22.19 23.25,23.76 21.90,22.85 20.55,23.76 21.00,22.19 19.71,21.19 21.34,21.13" fill="#eefcff"/>
<polygon points="21.90,25.70 22.46,27.23 24.09,27.29 22.80,28.29 23.25,29.86 21.90,28.95 20.55,29.86 21.00,28.29 19.71,27.29 21.34,27.23" fill="#eefcff"/>
<polygon points="27.90,13.60 28.46,15.13 30.09,15.19 28.80,16.19 29.25,17.76 27.90,16.85 26.55,17.76 27.00,16.19 25.71,15.19 27.34,15.13" fill="#eefcff"/>
<polygon points="27.90,19.60 28.46,21.13 30.09,21.19 28.80,22.19 29.25,23.76 27.90,22.85 26.55,23.76 27.00,22.19 25.71,21.19 27.34,21.13" fill="#eefcff"/>
<polygon points="27.90,25.70 28.46,27.23 30.09,27.29 28.80,28.29 29.25,29.86 27.90,28.95 26.55,29.86 27.00,28.29 25.71,27.29 27.34,27.23" fill="#eefcff"/>
<polygon points="34.00,13.60 34.56,15.13 36.19,15.19 34.90,16.19 35.35,17.76 34.00,16.85 32.65,17.76 33.10,16.19 31.81,15.19 33.44,15.13" fill="#eefcff"/>
<polygon points="34.00,19.60 34.56,21.13 36.19,21.19 34.90,22.19 35.35,23.76 34.00,22.85 32.65,23.76 33.10,22.19 31.81,21.19 33.44,21.13" fill="#eefcff"/>
<polygon points="34.00,25.70 34.56,27.23 36.19,27.29 34.90,28.29 35.35,29.86 34.00,28.95 32.65,29.86 33.10,28.29 31.81,27.29 33.44,27.23" fill="#eefcff"/>
</g>
<circle cx="2082" cy="1520" r="19.5" fill="none" stroke="#9c27b0" stroke-width="3"/>
<path d="M2087.8 1509.4L2073.3 1520.3L2081.4 1521.5L2076 1530.4L2090.4 1519.1L2082.6 1518.2z" fill="#9c27b0"/>
<path d="M2144.3 1574l6.85-11.8h13.7l6.85 11.8l-6.85 11.8h-13.7z" fill="none" stroke="#131722" stroke-width="2.4" stroke-linejoin="miter"/><circle cx="2158" cy="1574" r="3.9" fill="none" stroke="#131722" stroke-width="2.4"/>
</svg>
</body></html>
